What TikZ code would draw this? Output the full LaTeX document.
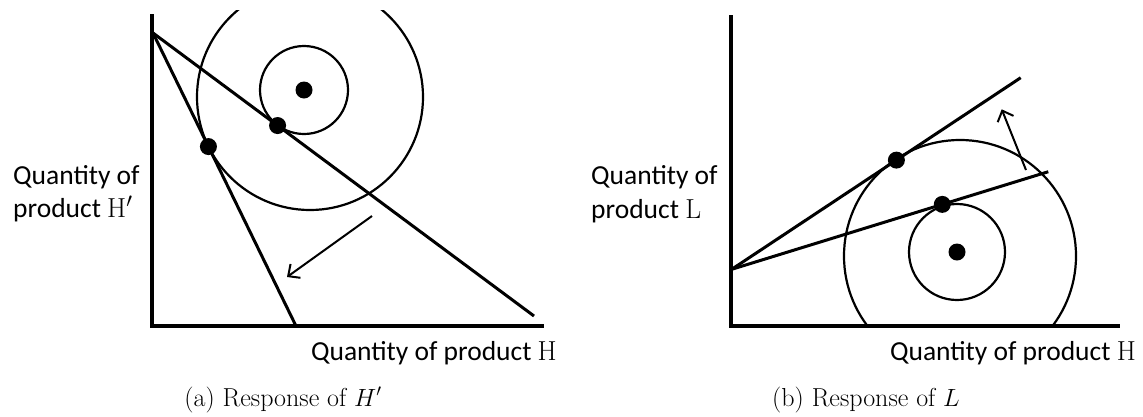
\documentclass[tikz,border=0pt]{standalone}
\usepackage{fontspec}
\newfontfamily\lblfont{Carlito}
\usetikzlibrary{arrows.meta,calc}
\begin{document}
\begin{tikzpicture}[x=1pt,y=-1pt,
  axis/.style={line width=4.5pt,line join=miter},
  budget/.style={line width=3pt,line cap=butt},
  indiff/.style={line width=2.2pt},
  shiftarrow/.style={line width=2pt,-{Straight Barb[length=9pt,width=17pt,line width=2pt]}},
  dot/.style={circle,fill=black,draw=none,inner sep=0pt,minimum size=17pt},
  axislabel/.style={font=\lblfont\fontsize{27.5}{33}\selectfont,inner sep=0pt},
  captionlabel/.style={font=\fontsize{26}{30}\selectfont,inner sep=0pt}]
\useasboundingbox (0,0) rectangle (1143,416);

% ---------------- panel (a) ----------------
\coordinate (aTop) at (152,14);
\coordinate (aO) at (152,326);
\coordinate (aRight) at (544,326);
\coordinate (aApex) at (153,33);
\coordinate (aEnd1) at (534,316);
\coordinate (aEnd2) at (296,326);
\coordinate (aBigC) at (310,97);
\coordinate (aSmallC) at (304,90);
\coordinate (aArrS) at (372,216);
\coordinate (aArrE) at (287,277);

\begin{scope}
  \clip (0,10) rectangle (560,416);
  \draw[indiff] (aBigC) circle[radius=113pt];
\end{scope}
\draw[indiff] (aSmallC) circle[radius=44pt];
\node[dot] (aCenterDot) at (aSmallC) {};

\draw[axis] (aTop) -- (aO) -- (aRight);
\draw[budget] (aApex) -- (aEnd1);
\draw[budget] (aApex) -- (aEnd2);
\node[dot] (aDot1) at ($(aApex)!(aBigC)!(aEnd2)$) {};
\node[dot] (aDot2) at ($(aApex)!(aSmallC)!(aEnd1)$) {};
\draw[shiftarrow] (aArrS) -- (aArrE);

\node[axislabel,anchor=base west] (aLy1) at (13,184) {Quantity of};
\node[axislabel,anchor=base west] (aLy2) at (13,217) {product {\rmfamily H}$'$};
\node[axislabel,anchor=base east] (aLx) at (557,360) {Quantity of product {\rmfamily H}};
\node[captionlabel,anchor=base] (aCap) at (283,406) {(a) Response of $H'$};

% ---------------- panel (b) ----------------
\coordinate (bTop) at (731,15);
\coordinate (bO) at (731,326);
\coordinate (bRight) at (1120,326);
\coordinate (bApex) at (731.7,269.3);
\coordinate (bEnd1) at (1020.7,77.7);
\coordinate (bEnd2) at (1048.3,171.7);
\coordinate (bBigC) at (960,256);
\coordinate (bSmallC) at (957,252);
\coordinate (bArrS) at (1026,170);
\coordinate (bArrE) at (1001.7,109.3);

\begin{scope}
  \clip (600,0) rectangle (1143,326);
  \draw[indiff] (bBigC) circle[radius=116pt];
\end{scope}
\draw[indiff] (bSmallC) circle[radius=48pt];
\node[dot] (bCenterDot) at (bSmallC) {};

\draw[axis] (bTop) -- (bO) -- (bRight);
\draw[budget] (bApex) -- (bEnd1);
\draw[budget] (bApex) -- (bEnd2);
\node[dot] (bDot1) at ($(bApex)!(bBigC)!(bEnd1)$) {};
\node[dot] (bDot2) at ($(bApex)!(bSmallC)!(bEnd2)$) {};
\draw[shiftarrow] (bArrS) -- (bArrE);

\node[axislabel,anchor=base west] (bLy1) at (591,184) {Quantity of};
\node[axislabel,anchor=base west] (bLy2) at (591,218) {product {\rmfamily L}};
\node[axislabel,anchor=base east] (bLx) at (1136,360) {Quantity of product {\rmfamily H}};
\node[captionlabel,anchor=base] (bCap) at (866,406) {(b) Response of $L$};
\end{tikzpicture}
\end{document}
